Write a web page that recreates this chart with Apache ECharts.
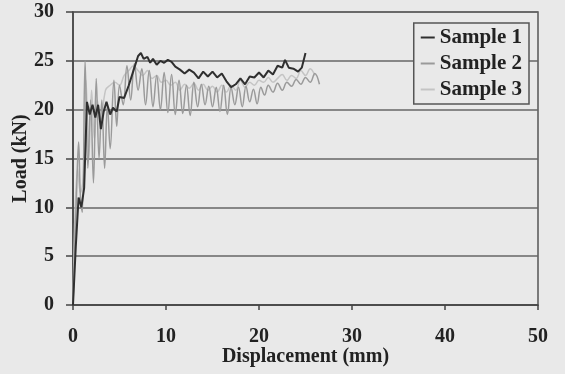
<!DOCTYPE html>
<html><head><meta charset="utf-8">
<script src="https://cdn.jsdelivr.net/npm/echarts@6/dist/echarts.min.js"></script>
<style>html,body{margin:0;padding:0;background:#e9e9e9;}#c{width:565px;height:374px;}</style>
</head><body><div id="c"></div>
<script>
var xTicks = [0, 10, 20, 30, 40, 50];
var yTicks = [0, 5, 10, 15, 20, 25, 30];
var seriesNames = ['Sample 1', 'Sample 2', 'Sample 3'];
var sample1 = [[0,0],[0.3,6],[0.6,11],[0.9,10],[1.2,12],[1.5,20.8],[1.8,19.5],[2.1,20.5],[2.4,19.2],[2.7,20.5],[3.0,18],[3.3,19.8],[3.6,20.8],[4.0,19.5],[4.3,20.2],[4.7,19.8],[5.0,21.3],[5.5,21.2],[6.0,22.5],[6.5,24],[7.0,25.5],[7.3,25.8],[7.6,25.2],[8.0,25.4],[8.3,24.8],[8.6,25.2],[9.0,24.6],[9.4,25],[9.8,24.8],[10.2,25.1],[10.6,24.9],[11,24.4],[11.5,24.1],[12,23.7],[12.5,24.1],[13,23.8],[13.5,23.2],[14,23.9],[14.5,23.4],[15,23.9],[15.5,23.3],[16,23.7],[16.5,22.9],[17,22.3],[17.5,22.6],[18,23.2],[18.5,22.6],[19,23.4],[19.5,23.3],[20,23.8],[20.5,23.3],[21,24],[21.5,23.6],[22,24.5],[22.5,24.3],[22.8,25.1],[23.2,24.3],[23.7,24.2],[24.2,23.9],[24.6,24.3],[25,25.8]];
var sample2 = [[0,0],[0.4,12],[0.6,16.7],[0.8,11],[1.0,9.5],[1.3,25],[1.6,14],[1.9,21],[2.2,12.5],[2.5,23.2],[2.8,15],[3.1,21],[3.4,14],[3.7,20.5],[4.0,16],[4.4,23],[4.7,18.3],[5.0,22.5],[5.4,20.5],[5.8,24.5],[6.2,21],[6.6,24.7],[7.0,22],[7.4,24.2],[7.8,20.5],[8.2,24],[8.6,20.3],[9.0,23.5],[9.4,20],[9.8,23.8],[10.2,19.7],[10.6,23.6],[11.0,19.5],[11.4,23],[11.8,19.6],[12.2,22.5],[12.6,19.4],[13.0,22.8],[13.4,20.3],[13.8,22.6],[14.2,20.5],[14.6,22.4],[15,20.3],[15.4,22.3],[15.8,19.8],[16.2,22.5],[16.6,19.5],[17,22.3],[17.4,20.5],[17.8,22.3],[18.2,20.3],[18.6,22.4],[19,20.8],[19.4,22.1],[19.8,20.6],[20.2,22.3],[20.6,21.5],[21,22.5],[21.5,21.8],[22,22.7],[22.5,22],[23,22.8],[23.5,22.4],[24,23.1],[24.5,22.6],[25,23.3],[25.5,22.8],[26,23.7],[26.5,22.6]];
var sample3 = [[0,0],[0.5,14],[0.8,11.5],[1.1,13],[1.4,23],[1.7,15],[2.0,22],[2.3,17],[2.6,21],[3.0,19],[3.5,22],[4,22.5],[4.5,22.8],[5,22.5],[5.5,23.5],[6,24],[6.5,24.5],[7,24],[7.5,23.5],[8,24],[8.5,23.2],[9,23.5],[9.5,22.8],[10,23],[10.5,22.5],[11,22.8],[11.5,22],[12,22.6],[12.5,22.2],[13,22.7],[13.5,22],[14,22.6],[14.5,22],[15,22.4],[15.5,21.8],[16,22.5],[16.5,21.8],[17,22.5],[17.5,22],[18,23],[18.5,22.3],[19,22.8],[19.5,22.5],[20,23],[20.5,22.8],[21,23.3],[21.5,22.8],[22,23.2],[22.5,23.6],[23,23],[23.5,23.5],[24,23.2],[24.5,24],[25,23.5],[25.5,24.2],[26,23.5]];

var font = '"Liberation Serif", "Times New Roman", serif';
var chart = echarts.init(document.getElementById('c'), null, {renderer: 'canvas'});
var colors = ['#2f2f2f', '#9a9a9a', '#c4c4c4'];
var widths = [2, 1.5, 1.5];
var smooths = [false, 0.4, 0.4];
var dataSets = [sample1, sample2, sample3];
chart.setOption({
  backgroundColor: '#e9e9e9',
  animation: false,
  grid: {left: 73, right: 27, top: 12, bottom: 69, containLabel: false, outerBoundsMode: 'none',
    show: true, borderColor: '#555', borderWidth: 1.5, backgroundColor: 'transparent'},
  legend: {
    right: 36, top: 23, orient: 'vertical', itemWidth: 14, itemHeight: 2, itemGap: 5,
    padding: [4, 7, 4, 7],
    borderColor: '#555', borderWidth: 1.5, backgroundColor: '#e9e9e9',
    textStyle: {fontFamily: font, fontWeight: 'bold', fontSize: 21, color: '#222'},
    data: seriesNames.map(function(n, i){ return {name: n, icon: 'rect', itemStyle: {color: colors[i]}}; })
  },
  xAxis: {
    type: 'value', min: xTicks[0], max: xTicks[xTicks.length-1], interval: 10,
    name: 'Displacement (mm)', nameLocation: 'middle', nameGap: 42, nameMoveOverlap: false,
    nameTextStyle: {fontFamily: font, fontWeight: 'bold', fontSize: 20, color: '#222'},
    axisLine: {lineStyle: {color: '#444', width: 1.5}},
    axisTick: {show: true, length: 5, lineStyle: {color: '#444', width: 1.5}},
    axisLabel: {fontFamily: font, fontWeight: 'bold', fontSize: 20, color: '#222', margin: 22},
    splitLine: {show: false}
  },
  yAxis: {
    type: 'value', min: yTicks[0], max: yTicks[yTicks.length-1], interval: 5,
    name: 'Load (kN)', nameLocation: 'middle', nameGap: 42, nameRotate: 90, nameMoveOverlap: false,
    nameTextStyle: {fontFamily: font, fontWeight: 'bold', fontSize: 20, color: '#222'},
    axisLine: {show: true, lineStyle: {color: '#444', width: 1.5}},
    axisTick: {show: true, length: 7, lineStyle: {color: '#444', width: 1.5}},
    axisLabel: {fontFamily: font, fontWeight: 'bold', fontSize: 20, color: '#222', margin: 19},
    splitLine: {show: true, lineStyle: {color: '#666', width: 1.5}}
  },
  series: seriesNames.map(function(n, i){
    return {name: n, type: 'line', data: dataSets[i], showSymbol: false, symbol: 'none', z: 10 - i,
      smooth: smooths[i],
      lineStyle: {color: colors[i], width: widths[i]}, itemStyle: {color: colors[i]}};
  })
});
</script></body></html>
